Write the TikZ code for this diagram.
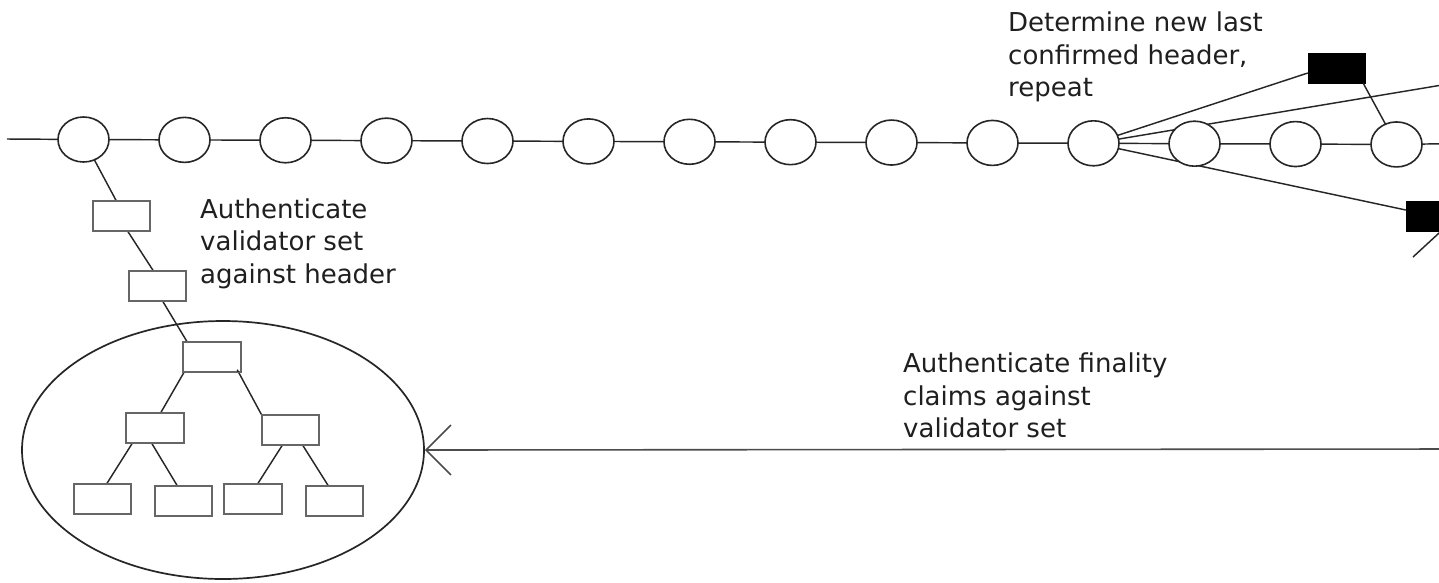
\documentclass[tikz,border=0pt]{standalone}
\usepackage{fontspec}
\setmainfont{DejaVu Sans}
\usetikzlibrary{shapes.geometric,arrows.meta}
\begin{document}
\begin{tikzpicture}[x=1pt,y=-1pt,
  blk/.style={ellipse,draw=black!85,line width=1.6pt,minimum width=51pt,minimum height=45pt,inner sep=0pt,fill=white},
  sbox/.style={rectangle,draw=black!60,line width=1.4pt,minimum width=57pt,minimum height=30pt,inner sep=0pt,fill=white},
  bbox/.style={rectangle,draw=black,fill=black,minimum width=57pt,minimum height=30pt,inner sep=0pt},
  big/.style={ellipse,draw=black!85,line width=1.7pt,minimum width=402pt,minimum height=258pt,inner sep=0pt},
  conn/.style={draw=black!85,line width=1.45pt},
  label/.style={anchor=north west,align=left,inner sep=0pt,text=black!88,font=\fontsize{26}{32.5}\selectfont}]
\useasboundingbox (0,0) rectangle (1439,582);
\clip (0,0) rectangle (1439,582);
\fill[white] (0,0) rectangle (1439,582);

% chain
\coordinate (cstart) at (7,139);
\coordinate (cend) at (1460,143.5);
\foreach \i in {1,...,14} {
  \pgfmathsetmacro{\cx}{83.5+101*(\i-1)}
  \pgfmathsetmacro{\cy}{139.5+0.38*(\i-1)}
  \coordinate (p\i) at (\cx,\cy);
}
\draw[conn] (cstart) -- (p1);
\foreach \i [evaluate=\i as \j using int(\i+1)] in {1,...,13} {
  \draw[conn] (p\i) -- (p\j);
}
\draw[conn] (p14) -- (cend);

% side branches
\node[bbox] (b1) at (1336.5,68) {};
\node[bbox] (b2) at (1434.5,216) {};
\coordinate (off1) at (1460,82);
\coordinate (off2) at (1413,257);
\draw[conn] (p11) -- ([yshift=-5pt]b1.west);
\draw[conn] (p11) -- (off1);
\draw[conn] (p11) -- ([yshift=6pt]b2.west);
\draw[conn] ([xshift=-2pt]b1.south east) -- (p14);
\draw[conn] ([xshift=6.5pt]b2.south) -- (off2);

% left chain to tree
\node[sbox] (r1) at (121.5,216) {};
\node[sbox] (r2) at (157.5,286) {};
\node[big] (E) at (223,450) {};
\node[sbox] (root) at (212,357) {};
\node[sbox] (L) at (155,428) {};
\node[sbox] (R) at (290.5,430) {};
\node[sbox] (l1) at (102.5,499) {};
\node[sbox] (l2) at (183.5,501) {};
\node[sbox] (l3) at (253,499) {};
\node[sbox] (l4) at (334.5,501) {};

\draw[conn] (p1) -- ([xshift=-5.5pt]r1.north);
\draw[conn] ([xshift=6.5pt]r1.south) -- ([xshift=-4.5pt]r2.north);
\draw[conn] ([xshift=5.5pt]r2.south) -- ([xshift=4pt]root.north west);
\draw[conn] ([xshift=1pt]root.south west) -- ([xshift=6pt]L.north);
\draw[conn] ([xshift=-4pt,yshift=3pt]root.south east) -- (R.north west);
\draw[conn] ([xshift=-23pt]L.south) -- ([xshift=4.5pt]l1.north);
\draw[conn] ([xshift=-3pt]L.south) -- ([xshift=-6.5pt]l2.north);
\draw[conn] ([xshift=-8.5pt]R.south) -- ([xshift=5pt]l3.north);
\draw[conn] ([xshift=12.5pt]R.south) -- ([xshift=-6.5pt]l4.north);

% redraw boxes on top
\foreach \n in {r1,r2,root,L,R,l1,l2,l3,l4} {
  \draw[draw=black!60,line width=1.4pt] (\n.north west) rectangle (\n.south east);
}

% chain ellipses on top
\foreach \i in {1,...,14} {
  \node[blk] (e\i) at (p\i) {};
}

% arrow
\coordinate (aend) at (1460,449);
\draw[draw=black!70,line width=1.6pt,-{Straight Barb[length=25pt,width=50pt]}] (aend) -- (E.east);

% labels
\node[label] (t1) at (1008,12) {Determine new last\\confirmed header,\\repeat};
\node[label] (t2) at (200,198.5) {Authenticate\\validator set\\against header};
\node[label] (t3) at (903,353) {Authenticate finality\\claims against\\validator set};
\end{tikzpicture}
\end{document}
